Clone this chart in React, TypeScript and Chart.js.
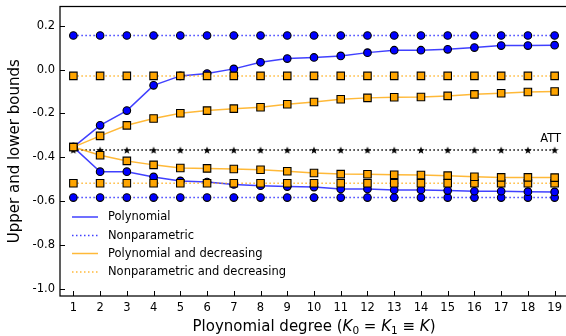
import React, { useEffect, useRef } from "react";
import { Chart, registerables } from "chart.js";
Chart.register(...registerables);

const degrees = [1, 2, 3, 4, 5, 6, 7, 8, 9, 10, 11, 12, 13, 14, 15, 16, 17, 18, 19];
const polyUpper = [-0.353, -0.254, -0.187, -0.072, -0.029, -0.018, 0.003, 0.033, 0.05, 0.055, 0.062, 0.077, 0.088, 0.088, 0.092, 0.1, 0.109, 0.109, 0.111];
const polyLower = [-0.353, -0.465, -0.465, -0.489, -0.507, -0.512, -0.523, -0.529, -0.533, -0.535, -0.544, -0.544, -0.548, -0.548, -0.551, -0.554, -0.554, -0.556, -0.557];
const npUpper = [0.155, 0.155, 0.155, 0.155, 0.155, 0.155, 0.155, 0.155, 0.155, 0.155, 0.155, 0.155, 0.155, 0.155, 0.155, 0.155, 0.155, 0.155, 0.155];
const npLower = [-0.583, -0.583, -0.583, -0.583, -0.583, -0.583, -0.583, -0.583, -0.583, -0.583, -0.583, -0.583, -0.583, -0.583, -0.583, -0.583, -0.583, -0.583, -0.583];
const polyDecUpper = [-0.353, -0.302, -0.254, -0.223, -0.199, -0.187, -0.178, -0.172, -0.158, -0.148, -0.135, -0.129, -0.126, -0.125, -0.12, -0.113, -0.108, -0.102, -0.1];
const polyDecLower = [-0.353, -0.39, -0.416, -0.434, -0.448, -0.45, -0.453, -0.456, -0.463, -0.471, -0.476, -0.477, -0.479, -0.48, -0.483, -0.488, -0.491, -0.491, -0.492];
const npDecUpper = [-0.029, -0.029, -0.029, -0.029, -0.029, -0.029, -0.029, -0.029, -0.029, -0.029, -0.029, -0.029, -0.029, -0.029, -0.029, -0.029, -0.029, -0.029, -0.029];
const npDecLower = [-0.518, -0.518, -0.518, -0.518, -0.518, -0.518, -0.518, -0.518, -0.518, -0.518, -0.518, -0.518, -0.518, -0.518, -0.518, -0.518, -0.518, -0.518, -0.518];
const att = [-0.366, -0.366, -0.366, -0.366, -0.366, -0.366, -0.366, -0.366, -0.366, -0.366, -0.366, -0.366, -0.366, -0.366, -0.366, -0.366, -0.366, -0.366, -0.366];
const yTicks = [-1.0, -0.8, -0.6, -0.4, -0.2, 0.0, 0.2];
const legendLabels = ["Polynomial", "Nonparametric", "Polynomial and decreasing", "Nonparametric and decreasing"];

const FONT = "'DejaVu Sans', sans-serif";
const BLUE_LINE = "rgba(0,0,255,0.75)";
const ORANGE_LINE = "rgba(255,165,0,0.78)";
const DOT = [1.5, 2.5];

function makeStar(size: number) {
  const c = document.createElement("canvas");
  c.width = size;
  c.height = size;
  const ctx = c.getContext("2d")!;
  const cx = size / 2, cy = size / 2 + 0.5, R = size / 2, r = R * 0.42;
  ctx.beginPath();
  for (let i = 0; i < 10; i++) {
    const a = -Math.PI / 2 + (i * Math.PI) / 5;
    const rad = i % 2 === 0 ? R : r;
    const px = cx + rad * Math.cos(a), py = cy + rad * Math.sin(a);
    if (i === 0) ctx.moveTo(px, py);
    else ctx.lineTo(px, py);
  }
  ctx.closePath();
  ctx.fillStyle = "#000";
  ctx.fill();
  return c;
}

const pts = (ys: number[]) => degrees.map((x, i) => ({ x, y: ys[i] }));

export default function App() {
  const ref = useRef<HTMLCanvasElement>(null);
  useEffect(() => {
    document.body.style.margin = "0";
    const star = makeStar(8);
    const circle = (data: number[], dotted: boolean) => ({
      data: pts(data),
      borderColor: BLUE_LINE,
      borderWidth: 1.5,
      borderDash: dotted ? DOT : [],
      pointStyle: "circle",
      pointRadius: 3.8,
      pointBackgroundColor: "#0000ff",
      pointBorderColor: "#000",
      pointBorderWidth: 1.1,
      tension: 0,
    });
    const square = (data: number[], dotted: boolean) => ({
      data: pts(data),
      borderColor: ORANGE_LINE,
      borderWidth: 1.5,
      borderDash: dotted ? DOT : [],
      pointStyle: "rect",
      pointRadius: 5.3,
      pointBackgroundColor: "#ffa500",
      pointBorderColor: "#000",
      pointBorderWidth: 1.1,
      tension: 0,
    });
    const overlay = {
      id: "overlay",
      afterDraw(chart: any) {
        const { ctx, chartArea: a, scales } = chart;
        const xs = scales.x, ys = scales.y;
        ctx.save();
        ctx.strokeStyle = "#000";
        ctx.lineWidth = 1.25;
        ctx.strokeRect(a.left, a.top, a.right - a.left, a.bottom - a.top);
        ctx.lineWidth = 1;
        ctx.beginPath();
        for (const v of yTicks) {
          const y = Math.round(ys.getPixelForValue(v)) + 0.5;
          ctx.moveTo(a.left, y);
          ctx.lineTo(a.left + 5, y);
        }
        for (const v of degrees) {
          const x = Math.round(xs.getPixelForValue(v)) + 0.5;
          ctx.moveTo(x, a.bottom);
          ctx.lineTo(x, a.bottom - 5);
        }
        ctx.stroke();
        // legend
        const rows = [217, 235.5, 253.5, 272];
        const styles = [
          { c: BLUE_LINE, d: [] as number[] },
          { c: BLUE_LINE, d: DOT },
          { c: ORANGE_LINE, d: [] as number[] },
          { c: ORANGE_LINE, d: DOT },
        ];
        ctx.font = `11.5px ${FONT}`;
        ctx.textBaseline = "middle";
        ctx.textAlign = "left";
        rows.forEach((y, i) => {
          ctx.beginPath();
          ctx.strokeStyle = styles[i].c;
          ctx.lineWidth = 1.5;
          ctx.setLineDash(styles[i].d);
          ctx.moveTo(72, y);
          ctx.lineTo(98, y);
          ctx.stroke();
          ctx.setLineDash([]);
          ctx.fillStyle = "#000";
          ctx.fillText(legendLabels[i], 108, y + 0.5);
        });
        // ATT label
        ctx.font = `11.5px ${FONT}`;
        ctx.textAlign = "right";
        ctx.fillText("ATT", 561, 139.5);
        // y title
        ctx.save();
        ctx.translate(15, (a.top + a.bottom) / 2);
        ctx.rotate(-Math.PI / 2);
        ctx.textAlign = "center";
        ctx.font = `15px ${FONT}`;
        ctx.fillText("Upper and lower bounds", 0, 0);
        ctx.restore();
        // x title with italic parts
        const segs: { t: string; f: string; dy: number }[] = [
          { t: "Ploynomial degree (", f: `15px ${FONT}`, dy: 0 },
          { t: "K", f: `italic 15px ${FONT}`, dy: 0 },
          { t: "0", f: `10.5px ${FONT}`, dy: 3 },
          { t: " = ", f: `15px ${FONT}`, dy: 0 },
          { t: "K", f: `italic 15px ${FONT}`, dy: 0 },
          { t: "1", f: `10.5px ${FONT}`, dy: 3 },
          { t: " \u2261 ", f: `15px ${FONT}`, dy: 0 },
          { t: "K", f: `italic 15px ${FONT}`, dy: 0 },
          { t: ")", f: `15px ${FONT}`, dy: 0 },
        ];
        ctx.textAlign = "left";
        ctx.textBaseline = "alphabetic";
        let total = 0;
        for (const s of segs) {
          ctx.font = s.f;
          total += ctx.measureText(s.t).width;
        }
        let x = (a.left + a.right) / 2 - total / 2;
        const base = 331;
        for (const s of segs) {
          ctx.font = s.f;
          ctx.fillText(s.t, x, base + s.dy);
          x += ctx.measureText(s.t).width;
        }
        ctx.restore();
      },
    };
    const noPad = (s: any) => {
      s.paddingTop = 0;
      s.paddingBottom = 0;
      s.paddingLeft = 0;
      s.paddingRight = 0;
    };
    const chart = new Chart(ref.current!, {
      type: "line",
      data: {
        datasets: [
          square(polyDecUpper, false),
          square(polyDecLower, false),
          square(npDecUpper, true),
          square(npDecLower, true),
          circle(polyUpper, false),
          circle(polyLower, false),
          circle(npUpper, true),
          circle(npLower, true),
          {
            data: pts(att),
            borderColor: "#000",
            borderWidth: 1.5,
            borderDash: DOT,
            pointStyle: star,
            pointRadius: 5,
            tension: 0,
          },
        ] as any,
      },
      options: {
        responsive: false,
        animation: false,
        devicePixelRatio: 1,
        layout: { padding: { top: 6, right: 12, left: 0, bottom: 0 } },
        plugins: { legend: { display: false }, tooltip: { enabled: false } },
        scales: {
          x: {
            type: "linear",
            min: 0.5,
            max: 19.5,
            afterBuildTicks: (s: any) => {
              s.ticks = degrees.map((v) => ({ value: v }));
            },
            afterFit: (s: any) => {
              s.height = 40;
              noPad(s);
            },
            grid: { display: false, drawTicks: false },
            border: { display: false },
            ticks: {
              padding: 5,
              color: "#000",
              font: { family: FONT, size: 11.5 },
              maxRotation: 0,
              autoSkip: false,
              callback: (v: any) => String(v),
            },
          },
          y: {
            type: "linear",
            min: -1.031,
            max: 0.287,
            afterBuildTicks: (s: any) => {
              s.ticks = yTicks.map((v) => ({ value: v }));
            },
            afterFit: (s: any) => {
              s.width = 60;
              noPad(s);
            },
            grid: { display: false, drawTicks: false },
            border: { display: false },
            ticks: {
              padding: 5,
              color: "#000",
              font: { family: FONT, size: 11.5 },
              callback: (v: any) => Number(v).toFixed(1),
            },
          },
        },
      },
      plugins: [overlay],
    } as any);
    return () => chart.destroy();
  }, []);
  return (
    <div style={{ width: 566, height: 336, overflow: "hidden", position: "relative", background: "#fff" }}>
      <canvas ref={ref} width={580} height={336} style={{ width: 580, height: 336, display: "block" }} />
    </div>
  );
}
